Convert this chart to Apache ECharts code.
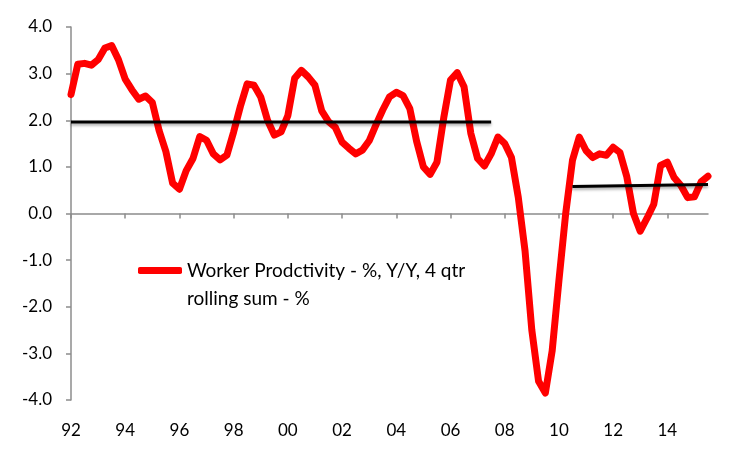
<!DOCTYPE html>
<html><head><meta charset="utf-8">
<script src="https://cdn.jsdelivr.net/npm/echarts@6/dist/echarts.min.js"></script>
<style>html,body{margin:0;padding:0;background:#fff}#c{width:750px;height:450px}</style>
</head><body><div id="c"></div>
<script>
const startYear = 1992;
const quarterCount = 95;
const quarters = [];
for (let i = 0; i < quarterCount; i++) quarters.push((startYear + Math.floor(i / 4)) + 'Q' + (i % 4 + 1));
const xTickLabels = ['92','94','96','98','00','02','04','06','08','10','12','14'];
const productivity = [
  2.55, 3.2, 3.22, 3.18, 3.3, 3.55, 3.6, 3.3,
  2.88, 2.65, 2.45, 2.52, 2.38, 1.78, 1.33, 0.65,
  0.52, 0.92, 1.18, 1.65, 1.57, 1.28, 1.15, 1.25,
  1.75, 2.3, 2.78, 2.75, 2.5, 2.0, 1.68, 1.75,
  2.1, 2.9, 3.07, 2.93, 2.75, 2.2, 1.97, 1.85,
  1.53, 1.4, 1.28, 1.36, 1.56, 1.9, 2.22, 2.5,
  2.6, 2.53, 2.25, 1.55, 1.0, 0.84, 1.1, 2.05,
  2.86, 3.02, 2.72, 1.72, 1.18, 1.02, 1.28, 1.64,
  1.5, 1.2, 0.35, -0.8, -2.5, -3.6, -3.85, -2.95,
  -1.44, 0.0, 1.14, 1.64, 1.35, 1.2, 1.28, 1.25,
  1.42, 1.31, 0.8, 0.0, -0.38, -0.1, 0.2, 1.03,
  1.1, 0.77, 0.6, 0.34, 0.36, 0.68, 0.8
];
const trend1Quarters = ['1992Q1', '2007Q3'];
const trend1Values = [1.96, 1.96];
const trend2Quarters = ['2010Q3', '2015Q3'];
const trend2Values = [0.58, 0.62];
const seriesName = 'Worker Prodctivity - %, Y/Y, 4 qtr\nrolling sum - %';
const yTicks = { min: -4, max: 4, step: 1 };

const FONT = 'Lato, "Open Sans", sans-serif';
const chart = echarts.init(document.getElementById('c'), null, { renderer: 'canvas' });
const trendStyle = { color: '#000', width: 3, shadowColor: 'rgba(0,0,0,0.35)', shadowBlur: 3, shadowOffsetY: 2 };
chart.setOption({
  animation: false,
  backgroundColor: '#fff',
  grid: { left: 71, right: 42, top: 27, bottom: 50 },
  legend: {
    data: [{ name: seriesName, icon: 'roundRect' }],
    left: 138, top: 261, padding: 0,
    itemWidth: 44, itemHeight: 7,
    formatter: n => n.split('\n')[0],
    textStyle: { fontSize: 19, color: '#000', fontFamily: FONT, padding: [7, 0, 0, 0] }
  },
  graphic: [{
    type: 'text', left: 187, top: 289,
    style: { text: seriesName.split('\n')[1], fontSize: 19, fontFamily: FONT, fill: '#000' }
  }],
  xAxis: [{
    type: 'category', data: quarters, boundaryGap: false, position: 'bottom',
    axisLine: { show: false, onZero: false }, axisTick: { show: false },
    axisLabel: { interval: 7, margin: 22, fontSize: 17, color: '#000', fontFamily: FONT,
      formatter: (v, idx) => xTickLabels[Math.round(idx / 8)] },
    splitLine: { show: false }
  }, {
    type: 'category', data: quarters, boundaryGap: false, position: 'bottom',
    axisLine: { show: true, onZero: true, lineStyle: { color: '#8c8c8c', width: 1.5 } },
    axisTick: { show: true, interval: 7, length: 5, lineStyle: { color: '#8c8c8c', width: 1.5 } },
    axisLabel: { show: false }, splitLine: { show: false }
  }],
  yAxis: {
    type: 'value', min: yTicks.min, max: yTicks.max, interval: yTicks.step,
    axisLine: { show: true, lineStyle: { color: '#8c8c8c', width: 1.5 } },
    axisTick: { show: true, length: 5, lineStyle: { color: '#8c8c8c', width: 1.5 } },
    axisLabel: { margin: 19, fontSize: 17, color: '#000', fontFamily: FONT, padding: [6, 0, 0, 0],
      formatter: v => v.toFixed(1) },
    splitLine: { show: false }
  },
  series: [{
    type: 'line', name: seriesName, data: productivity, xAxisIndex: 0,
    symbol: 'none', z: 2,
    itemStyle: { color: '#ff0000' },
    lineStyle: { color: '#ff0000', width: 7, cap: 'round', join: 'round' }
  }, {
    type: 'line', name: 'trend1', data: trend1Quarters.map((q, k) => [q, trend1Values[k]]),
    xAxisIndex: 0, symbol: 'none', z: 3, lineStyle: trendStyle, silent: true
  }, {
    type: 'line', name: 'trend2', data: trend2Quarters.map((q, k) => [q, trend2Values[k]]),
    xAxisIndex: 0, symbol: 'none', z: 3, lineStyle: trendStyle, silent: true
  }]
});
</script></body></html>
